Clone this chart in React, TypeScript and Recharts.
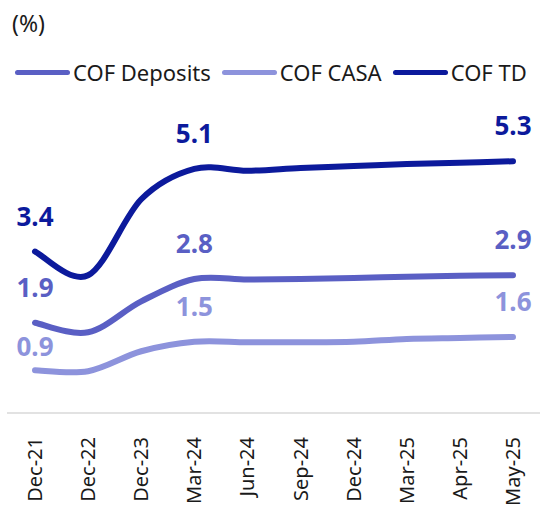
import React from "react";
import { LineChart, Line, XAxis, YAxis, Legend, LabelList } from "recharts";

const months = [
  "Dec-21",
  "Dec-22",
  "Dec-23",
  "Mar-24",
  "Jun-24",
  "Sep-24",
  "Dec-24",
  "Mar-25",
  "Apr-25",
  "May-25",
];
const cofDeposits = [1.9, 1.7, 2.35, 2.82, 2.81, 2.82, 2.84, 2.87, 2.89, 2.9];
const cofCasa = [0.9, 0.88, 1.3, 1.5, 1.49, 1.49, 1.5, 1.56, 1.58, 1.6];
const cofTd = [3.4, 2.9, 4.5, 5.14, 5.1, 5.16, 5.2, 5.24, 5.27, 5.3];
const labelIdx = [0, 3, 9];

const C_DEP = "#5a5fc4";
const C_CASA = "#8d93dc";
const C_TD = "#0c1a9c";
const FONT = "'Noto Sans', sans-serif";

const data = months.map((m, i) => ({
  month: m,
  dep: cofDeposits[i],
  casa: cofCasa[i],
  td: cofTd[i],
}));

const series = [
  { key: "dep", name: "COF Deposits", color: C_DEP },
  { key: "casa", name: "COF CASA", color: C_CASA },
  { key: "td", name: "COF TD", color: C_TD },
];

// excel-style smoothed line (catmull-rom through every point)
function smoothCurve(context: any) {
  let pts: number[][] = [];
  return {
    areaStart() {},
    areaEnd() {},
    lineStart() {
      pts = [];
    },
    lineEnd() {
      if (!pts.length) return;
      context.moveTo(pts[0][0], pts[0][1]);
      for (let i = 0; i < pts.length - 1; i++) {
        const p0 = pts[i - 1] || pts[i];
        const p1 = pts[i];
        const p2 = pts[i + 1];
        const p3 = pts[i + 2] || p2;
        context.bezierCurveTo(
          p1[0] + (p2[0] - p0[0]) / 6,
          p1[1] + (p2[1] - p0[1]) / 6,
          p2[0] - (p3[0] - p1[0]) / 6,
          p2[1] - (p3[1] - p1[1]) / 6,
          p2[0],
          p2[1]
        );
      }
    },
    point(x: number, y: number) {
      pts.push([+x, +y]);
    },
  };
}

function renderLabel(key: string, color: string) {
  return (p: any) => {
    if (!labelIdx.includes(p.index)) return null;
    // first CASA label sits closer to its line
    const lift = key === "casa" && p.index === 0 ? 14 : 26;
    return (
      <text
        x={p.x}
        y={p.y - lift}
        textAnchor="middle"
        fill={color}
        fontFamily={FONT}
        fontWeight={700}
        fontSize={26}
      >
        {Number(p.value).toFixed(1)}
      </text>
    );
  };
}

function MonthTick(props: any) {
  const { x, y, payload } = props;
  return (
    <text
      x={x}
      y={y}
      transform={`rotate(-90, ${x}, ${y})`}
      textAnchor="end"
      dy="0.35em"
      fill="#1a1a1a"
      fontFamily={FONT}
      fontSize={20}
    >
      {payload.value}
    </text>
  );
}

function LegendBox() {
  return (
    <div style={{ height: 90, fontFamily: FONT, color: "#1a1a1a" }}>
      <div style={{ position: "absolute", left: 12, top: 7, fontSize: 23 }}>(%)</div>
      <div
        style={{
          position: "absolute",
          left: 15,
          top: 57,
          display: "flex",
          alignItems: "center",
          fontSize: 22,
          whiteSpace: "nowrap",
        }}
      >
        {series.map((s) => (
          <div key={s.key} style={{ display: "flex", alignItems: "center", marginRight: 11 }}>
            <span
              style={{
                display: "inline-block",
                width: 55,
                height: 5,
                borderRadius: 3,
                background: s.color,
                marginRight: 3,
              }}
            />
            <span>{s.name}</span>
          </div>
        ))}
      </div>
    </div>
  );
}

export default function App() {
  return (
    <div style={{ position: "absolute", left: 0, top: 0, background: "#fff" }}>
      <LineChart
        width={540}
        height={506}
        data={data}
        margin={{ top: 38, right: 0, left: 7, bottom: 0 }}
      >
        <Legend
          verticalAlign="top"
          align="left"
          content={() => <LegendBox />}
          wrapperStyle={{ left: 0, top: 0, width: 540, height: 90 }}
        />
        <XAxis
          dataKey="month"
          interval={0}
          tick={<MonthTick />}
          tickLine={false}
          axisLine={{ stroke: "#d9d9d9", strokeWidth: 1.5 }}
          padding={{ left: 28, right: 27 }}
          height={93}
          tickMargin={18}
        />
        <YAxis hide domain={[0, 6]} />
        {series.map((s) => (
          <Line
            key={s.key}
            type={smoothCurve as any}
            dataKey={s.key}
            name={s.name}
            stroke={s.color}
            strokeWidth={6}
            strokeLinecap="round"
            dot={false}
            activeDot={false}
            isAnimationActive={false}
          >
            <LabelList dataKey={s.key} content={renderLabel(s.key, s.color)} />
          </Line>
        ))}
      </LineChart>
    </div>
  );
}
